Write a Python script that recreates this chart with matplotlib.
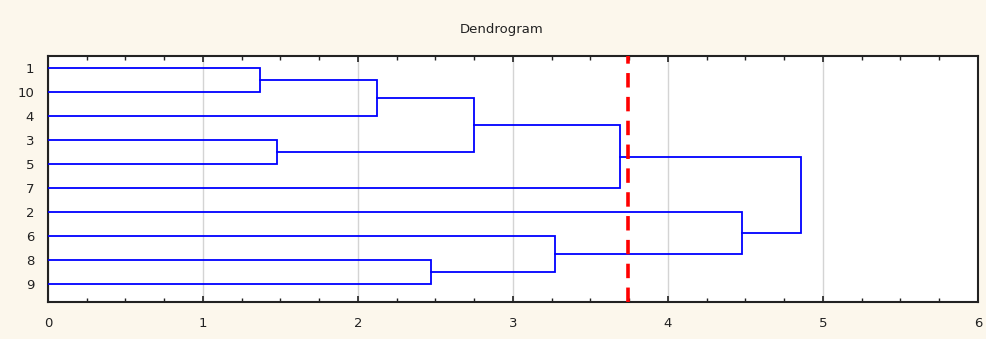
import numpy as np
import matplotlib.pyplot as plt
from matplotlib.ticker import MultipleLocator

# leaf order, top to bottom
leaf_order = ["1", "10", "4", "3", "5", "7", "2", "6", "8", "9"]

# merges: (left child, right child, linkage distance)
merge_a = ["1", "3", "c1", "8", "c3", "c4", "c5", "2", "c7"]
merge_b = ["10", "5", "4", "9", "c2", "6", "7", "c6", "c8"]
merge_h = [1.37, 1.48, 2.12, 2.47, 2.75, 3.27, 3.69, 4.48, 4.86]

cut_level = 3.74

fig = plt.figure(figsize=(9.87, 3.39), dpi=100)
fig.patch.set_facecolor("#FCF7EC")
ax = fig.add_axes([48 / 987, 1 - 302 / 339, 930 / 987, 246 / 339])
ax.set_facecolor("white")

pos = {name: i for i, name in enumerate(leaf_order)}
height = {name: 0.0 for name in leaf_order}

for i, (a, b, h) in enumerate(zip(merge_a, merge_b, merge_h)):
    ya, yb = pos[a], pos[b]
    ax.plot([height[a], h, h, height[b]], [ya, ya, yb, yb],
            color="#0000FF", lw=1.3, solid_joinstyle="miter", zorder=3)
    node = "c%d" % (i + 1)
    pos[node] = (ya + yb) / 2
    height[node] = h

ax.axvline(cut_level, color="#FF0000", lw=2.6, dashes=(4, 2.6), zorder=4)

ax.set_xlim(0, 6)
ax.set_ylim(len(leaf_order) - 0.25, -0.5)
ax.set_yticks(range(len(leaf_order)))
ax.set_yticklabels(leaf_order)
ax.xaxis.set_major_locator(MultipleLocator(1))
ax.xaxis.set_minor_locator(MultipleLocator(0.25))
ax.grid(axis="x", color="#D4D4D4", lw=1.0, zorder=0)
ax.set_axisbelow(True)

ax.tick_params(axis="x", which="both", direction="in", top=True, bottom=True,
               labelsize=9.5, colors="#222222", pad=11)
ax.tick_params(axis="x", which="major", length=4, width=1.2)
ax.tick_params(axis="x", which="minor", length=3, width=1.0)
ax.tick_params(axis="y", length=0, labelsize=9.5, colors="#222222", pad=10)

for s in ax.spines.values():
    s.set_linewidth(1.5)
    s.set_color("#222222")

fig.text(502 / 987, 1 - 30 / 339, "Dendrogram", ha="center", va="center",
         fontsize=9.5, color="#222222")

fig.savefig("out.png", dpi=100, facecolor=fig.get_facecolor())
